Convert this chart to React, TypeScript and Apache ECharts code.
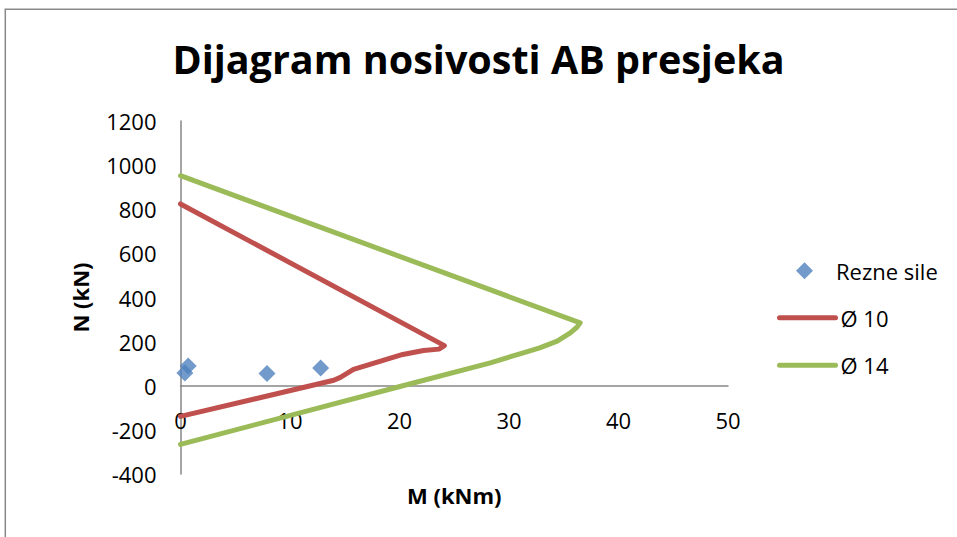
import { useEffect, useRef } from "react";
import * as echarts from "echarts";

const TITLE = "Dijagram nosivosti AB presjeka";
const X_NAME = "M (kNm)";
const Y_NAME = "N (kN)";
const SERIES_NAMES = ["Rezne sile", "Ø 10", "Ø 14"];

// Rezne sile (M, N)
const reznM = [0.7, 0.4, 7.9, 12.8];
const reznN = [89, 58, 55, 81];

// Ø 10 interaction curve
const phi10M = [0, 24.1, 23.6, 22.2, 20.3, 15.8, 14.6, 14.0, 0];
const phi10N = [824, 182, 166, 160, 142, 74, 38, 25, -139];

// Ø 14 interaction curve
const phi14M = [0, 36.5, 36.2, 35.6, 34.4, 32.8, 31.3, 28.3, 20.3, 0];
const phi14N = [952, 285, 265, 240, 202, 172, 149, 104, 0, -266];

const X_MIN = 0, X_MAX = 50, X_STEP = 10;
const Y_MIN = -400, Y_MAX = 1200, Y_STEP = 200;

const zip = (a: number[], b: number[]) => a.map((v, i) => [v, b[i]]);

const FONT = "Open Sans";

export default function App() {
  const ref = useRef<HTMLDivElement>(null);
  useEffect(() => {
    const chart = echarts.init(ref.current!, null, { renderer: "svg" });
    const axisLineStyle = { color: "#868686", width: 1.5 };
    const labelStyle = { fontFamily: FONT, fontSize: 22, color: "#000", lineHeight: 22 };
    const nameStyle = { fontFamily: FONT, fontSize: 22, fontWeight: "bold" as const, color: "#000", lineHeight: 22 };
    const legendText = { fontFamily: FONT, fontSize: 22, color: "#000", lineHeight: 22 };
    chart.setOption({
      animation: false,
      backgroundColor: "#fff",
      title: {
        text: TITLE,
        left: "center",
        top: 33,
        textStyle: { fontFamily: FONT, fontWeight: "bold", fontSize: 39.5, color: "#000", lineHeight: 42 },
      },
      graphic: [
        {
          type: "rect",
          shape: { x: 5.3, y: 9.3, width: 1000, height: 1000 },
          style: { fill: "none", stroke: "#898989", lineWidth: 1.5 },
          silent: true,
        },
      ],
      grid: { left: 180.5, right: 229, top: 121, bottom: 63, outerBoundsMode: "none", containLabel: false },
      legend: [
        {
          data: [SERIES_NAMES[0]],
          orient: "vertical",
          left: 791,
          top: 254.7,
          itemWidth: 17,
          itemHeight: 17,
          textStyle: { ...legendText, padding: [0, 0, 0, 18] },
        },
        {
          data: [
            { name: SERIES_NAMES[1], itemStyle: { opacity: 0 } },
            { name: SERIES_NAMES[2], itemStyle: { opacity: 0 } },
          ],
          orient: "vertical",
          left: 772,
          top: 301.7,
          itemWidth: 56,
          itemHeight: 18,
          itemGap: 25.5,
          lineStyle: { width: 5, cap: "round" },
          textStyle: legendText,
        },
      ],
      xAxis: {
        type: "value",
        min: X_MIN,
        max: X_MAX,
        interval: X_STEP,
        axisLine: { onZero: true, lineStyle: axisLineStyle },
        axisTick: { show: false },
        splitLine: { show: false },
        axisLabel: { ...labelStyle, margin: -65, formatter: (v: number) => String(v) },
        name: X_NAME,
        nameLocation: "middle",
        nameGap: 10,
        nameTextStyle: nameStyle,
      },
      yAxis: {
        type: "value",
        min: Y_MIN,
        max: Y_MAX,
        interval: Y_STEP,
        axisLine: { onZero: true, lineStyle: axisLineStyle },
        axisTick: { show: false },
        splitLine: { show: false },
        axisLabel: { ...labelStyle, margin: 24, formatter: (v: number) => String(v) },
        name: Y_NAME,
        nameLocation: "middle",
        nameRotate: 90,
        nameGap: 90,
        nameTextStyle: nameStyle,
      },
      series: [
        {
          name: SERIES_NAMES[0],
          type: "scatter",
          data: zip(reznM, reznN),
          symbol: "diamond",
          symbolSize: 17,
          itemStyle: { color: "#4F81BD" },
          z: 3,
        },
        {
          name: SERIES_NAMES[1],
          type: "line",
          data: zip(phi10M, phi10N),
          symbol: "none",
          showSymbol: false,
          itemStyle: { color: "#C0504D" },
          lineStyle: { color: "#C0504D", width: 5, cap: "round", join: "round" },
        },
        {
          name: SERIES_NAMES[2],
          type: "line",
          data: zip(phi14M, phi14N),
          symbol: "none",
          showSymbol: false,
          itemStyle: { color: "#9BBB59" },
          lineStyle: { color: "#9BBB59", width: 5, cap: "round", join: "round" },
        },
      ],
    });
    return () => chart.dispose();
  }, []);
  return (
    <div
      ref={ref}
      style={{ position: "fixed", left: 0, top: 0, width: 957, height: 537, background: "#fff" }}
    />
  );
}
